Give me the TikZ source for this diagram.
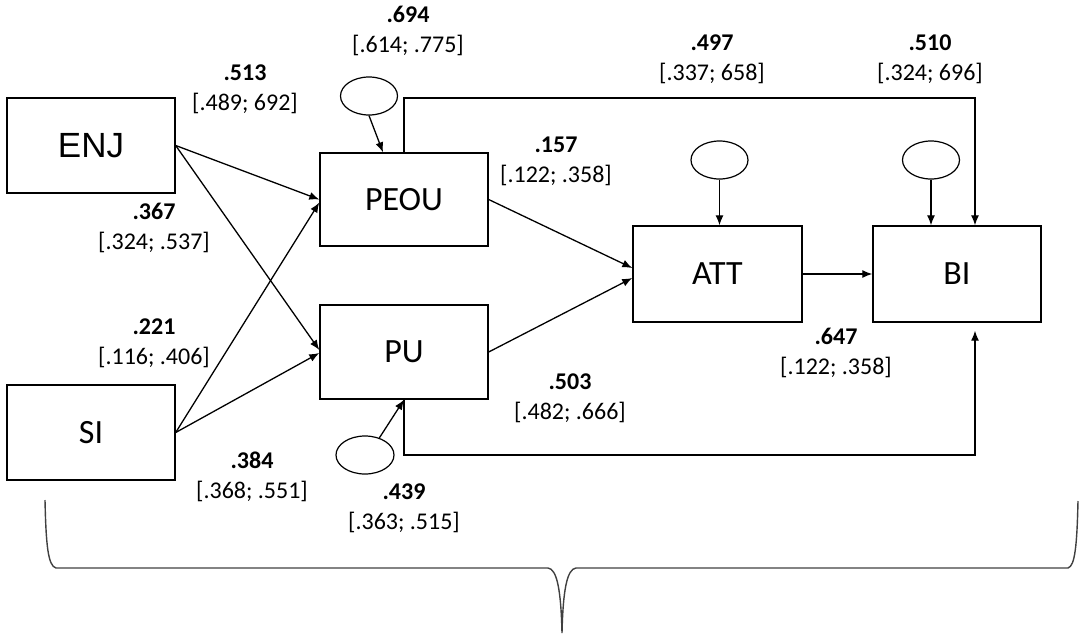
\documentclass[tikz,border=0pt]{standalone}
\usepackage{fontspec}
\setmainfont{Carlito}
\newfontfamily\arialfont{Liberation Sans}
\usetikzlibrary{arrows.meta,shapes.geometric}
\tikzset{
  box/.style={draw, line width=1.4pt, rectangle, inner sep=0pt, minimum width=168pt, minimum height=95pt, font=\fontsize{34}{38}\selectfont},
  err/.style={draw, line width=1.2pt, ellipse, inner sep=0pt, minimum width=57pt, minimum height=38pt},
  lab/.style={align=center, inner sep=0pt, font=\fontsize{24}{30}\selectfont},
  con/.style={line width=1.3pt, -{Latex[length=10pt,width=8pt]}},
  brace/.style={line width=1.4pt, draw=black!75}
}
\begin{document}
\begin{tikzpicture}[x=1pt,y=-1pt]
\useasboundingbox (0,0) rectangle (1080,641);
% boxes
\node[box, font=\arialfont\fontsize{35}{38}\selectfont] (ENJ) at (91,145.5) {ENJ};
\node[box] (SI) at (91,432.5) {SI};
\node[box, minimum height=93pt] (PEOU) at (404,199.5) {PEOU};
\node[box, minimum height=94pt] (PU) at (404,352) {PU};
\node[box, minimum width=169pt, minimum height=96pt] (ATT) at (717.5,274) {ATT};
\node[box, minimum height=96pt] (BI) at (957,274) {BI};
% error terms
\node[err] (e1) at (369,96) {};
\node[err] (e2) at (719.5,160) {};
\node[err] (e3) at (931,160) {};
\node[err, minimum width=58pt] (e4) at (365,455) {};
% connectors
\draw[con] (ENJ.east) -- (PEOU.west);
\draw[con] (ENJ.east) -- ([yshift=2pt]PU.west);
\draw[con] (SI.east) -- ([yshift=-3pt]PEOU.west);
\draw[con] (SI.east) -- ([yshift=-1pt]PU.west);
\draw[con] (PEOU.east) -- ([yshift=6pt]ATT.west);
\draw[con] (PU.east) -- ([yshift=-4pt]ATT.west);
\draw[con] (ATT.east) -- (BI.west);
\draw[con] (e1.south) -- ([xshift=-21pt]PEOU.north);
\draw[con] (e2.south) -- (e2.south |- ATT.north);
\draw[con] (e3.south) -- (e3.south |- BI.north);
\draw[con] (e4.50) -- (PU.south);
\draw[con] (PEOU.north) -- (PEOU.north |- 0,98) -| ([xshift=18pt]BI.north);
\draw[con] (PU.south) -- (PU.south |- 0,455) -| ([xshift=18pt,yshift=-8pt]BI.south);
% labels
\node[lab] (l694) at (408,31) {\textbf{.694}\\{}[.614; .775]};
\node[lab] (l513) at (245,89) {\textbf{.513}\\{}[.489; 692]};
\node[lab] (l497) at (712,59) {\textbf{.497}\\{}[.337; 658]};
\node[lab] (l510) at (930,59) {\textbf{.510}\\{}[.324; 696]};
\node[lab] (l157) at (556,161) {\textbf{.157}\\{}[.122; .358]};
\node[lab] (l367) at (154,228) {\textbf{.367}\\{}[.324; .537]};
\node[lab] (l221) at (154,343) {\textbf{.221}\\{}[.116; .406]};
\node[lab] (l503) at (570,398) {\textbf{.503}\\{}[.482; .666]};
\node[lab] (l647) at (836,353) {\textbf{.647}\\{}[.122; .358]};
\node[lab] (l384) at (252,477) {\textbf{.384}\\{}[.368; .551]};
\node[lab] (l439) at (404,508) {\textbf{.439}\\{}[.363; .515]};
% brace
\draw[brace] (45,500) .. controls (46,545) and (48,566) .. (56,568) -- (548,568)
  .. controls (557,569) and (561,590) .. (562,633)
  .. controls (563,590) and (567,569) .. (576,568) -- (1068,568)
  .. controls (1075,566) and (1077,545) .. (1078,501);
\end{tikzpicture}
\end{document}
